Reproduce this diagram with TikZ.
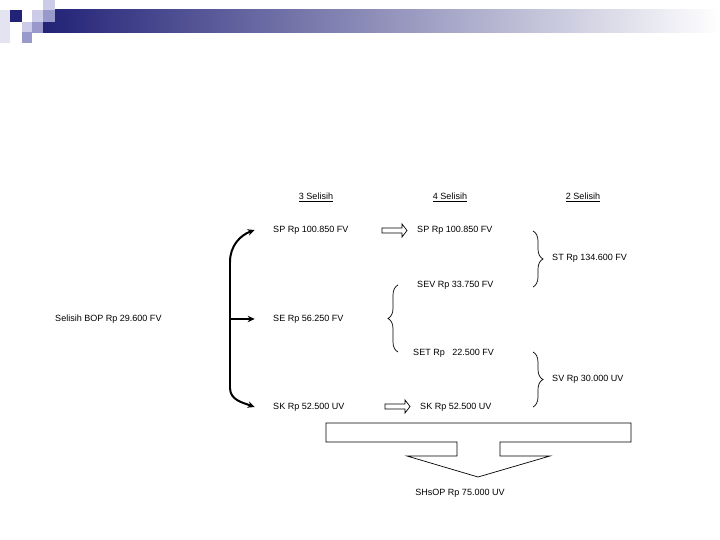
\documentclass[tikz,border=0pt]{standalone}
\usepackage{fontspec}
\setmainfont{Liberation Sans}
\usetikzlibrary{arrows.meta,decorations.pathreplacing}

\definecolor{navy}{HTML}{222277}
\definecolor{lavlight}{HTML}{CCCCE8}
\definecolor{lavmid}{HTML}{9999CC}

\begin{document}
\begin{tikzpicture}[x=0.03cm,y=-0.03cm,
  every node/.style={font=\fontsize{7.7}{9}\selectfont,inner sep=0pt},
  fork/.style={line width=1.7pt,-{Stealth[length=6pt,width=5.5pt]}},
  brace/.style={decorate,decoration={brace,amplitude=0.3cm},line width=0.6pt},
  blockarrow/.style={draw,line width=0.6pt,fill=white}]

\useasboundingbox[fill=white] (0,0) rectangle (720,540);

% title bar
\shade[left color=navy,middle color=navy!22,right color=white] (43,10) rectangle (720,33);
\fill[lavlight!55] (0,10) rectangle (10,43);
\fill[navy] (10,10) rectangle (22,22);
\fill[lavlight] (32,10) rectangle (43,22);
\fill[lavlight] (43,0) rectangle (55,10);
\fill[lavmid] (43,10) rectangle (55,22);
\fill[lavlight] (22,22) rectangle (32,32);
\fill[lavmid] (32,22) rectangle (43,33);
\fill[lavmid] (22,32) rectangle (32,43);

% headings
\node (h3) at (316,197) {\underline{3 Selisih}};
\node (h4) at (450,197) {\underline{4 Selisih}};
\node (h2) at (583,197) {\underline{2 Selisih}};

% amounts
\node[anchor=west] (bop) at (55,319) {Selisih BOP Rp 29.600 FV};
\node[anchor=west] (spL) at (273,230) {SP Rp 100.850 FV};
\node[anchor=west] (se) at (273,319) {SE Rp 56.250 FV};
\node[anchor=west] (skL) at (273,407) {SK Rp 52.500 UV};
\node[anchor=west] (spR) at (417,230) {SP Rp 100.850 FV};
\node[anchor=west] (sev) at (417,285) {SEV Rp 33.750 FV};
\node[anchor=west] (setv) at (413,353) {SET Rp\ \ \ 22.500 FV};
\node[anchor=west] (skR) at (420,407) {SK Rp 52.500 UV};
\node[anchor=west] (st) at (552,258) {ST Rp 134.600 FV};
\node[anchor=west] (sv) at (552,379) {SV Rp 30.000 UV};
\node (shsop) at (460,493) {SHsOP Rp 75.000 UV};

% fork into 3 selisih
\coordinate (fork) at (230,319);
\draw[fork] (fork) -- (230,262) to[out=90,in=200] ([xshift=-0.55cm]spL.west);
\draw[fork] (fork) -- ([xshift=-0.55cm]se.west);
\draw[fork] (fork) -- (230,388) to[out=270,in=160] ([xshift=-0.55cm]skL.west);

% block arrows
\foreach \xa/\ya in {382/230.5, 385/406.5}
  \draw[blockarrow,shift={(\xa,\ya)}] (0,-2.5) -- (20,-2.5) -- (20,-6.5) -- (25,0)
    -- (20,6.5) -- (20,2.5) -- (0,2.5) -- cycle;

% braces
\coordinate (b1t) at (533,231);
\coordinate (b1b) at (533,287);
\coordinate (b2t) at (398,285);
\coordinate (b2b) at (398,352);
\coordinate (b3t) at (533,352);
\coordinate (b3b) at (533,407);
\draw[brace] (b1t) -- (b1b);
\draw[brace] (b2b) -- (b2t);
\draw[brace] (b3t) -- (b3b);

% total arrow
\draw[line width=0.6pt] (326,423) -- (631,423) -- (631,442) -- (500,442) -- (500,456)
  -- (550,456) -- (478,477) -- (407,456) -- (457,456) -- (457,442) -- (326,442) -- cycle;

\end{tikzpicture}
\end{document}
